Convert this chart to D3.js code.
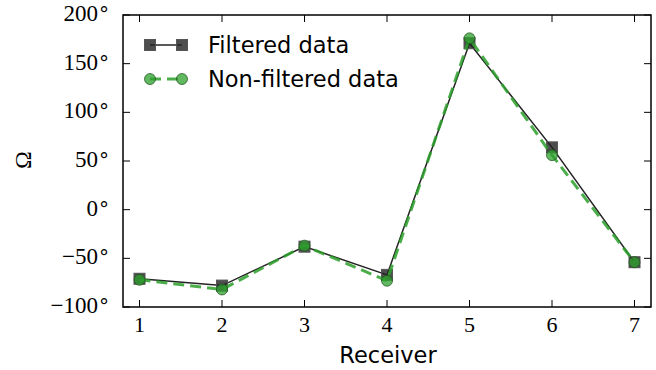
<!DOCTYPE html>
<html><head><meta charset="utf-8">
<script src="https://cdn.jsdelivr.net/npm/d3@7"></script>
<style>body{margin:0;background:#fff}svg{display:block}</style>
</head><body>
<svg id="c" width="656" height="370"></svg>
<script>
const receivers = [1, 2, 3, 4, 5, 6, 7];
const filtered = [-71, -78, -38, -67, 171, 64, -54];
const nonFiltered = [-72, -82, -37, -73, 176, 56, -54];
const yTicks = [-100, -50, 0, 50, 100, 150, 200];
const xTicks = [1, 2, 3, 4, 5, 6, 7];
const seriesNames = ["Filtered data", "Non-filtered data"];

const svg = d3.select("#c");
const L = 123, R = 651, T = 15, B = 307;
const x = d3.scaleLinear().domain([0.8, 7.2]).range([L, R]);
const y = d3.scaleLinear().domain([-100, 200]).range([B, T]);
const serif = "'Liberation Serif', 'DejaVu Serif', serif";
const sans = "'DejaVu Sans', sans-serif";

const g = svg.append("g");
xTicks.forEach(t => {
  g.append("line").attr("x1", x(t)).attr("x2", x(t)).attr("y1", B).attr("y2", B - 7).attr("stroke", "#000").attr("stroke-width", 1);
  g.append("line").attr("x1", x(t)).attr("x2", x(t)).attr("y1", T).attr("y2", T + 7).attr("stroke", "#000").attr("stroke-width", 1);
  g.append("text").attr("x", x(t)).attr("y", B + 25).attr("text-anchor", "middle")
    .attr("font-family", serif).attr("font-size", 22).text(t);
});
yTicks.forEach(t => {
  g.append("line").attr("x1", L).attr("x2", L + 7).attr("y1", y(t)).attr("y2", y(t)).attr("stroke", "#000").attr("stroke-width", 1);
  g.append("line").attr("x1", R).attr("x2", R - 7).attr("y1", y(t)).attr("y2", y(t)).attr("stroke", "#000").attr("stroke-width", 1);
  const tx = g.append("text").attr("x", L - 14).attr("y", y(t) + 6).attr("text-anchor", "end")
    .attr("font-family", serif).attr("font-size", 23);
  tx.append("tspan").text(t < 0 ? "\u2212" + Math.abs(t) : String(t));
  tx.append("tspan").attr("dx", 1).attr("font-family", sans).attr("font-size", 20).text("\u00B0");
});

const line = d3.line().x(d => x(d[0])).y(d => y(d[1]));
const fData = receivers.map((r, i) => [r, filtered[i]]);
const nData = receivers.map((r, i) => [r, nonFiltered[i]]);

svg.append("path").datum(fData).attr("d", line).attr("fill", "none")
  .attr("stroke", "#222").attr("stroke-width", 1.5);
svg.selectAll(".sq").data(fData).enter().append("rect")
  .attr("x", d => x(d[0]) - 5.5).attr("y", d => y(d[1]) - 5.5).attr("width", 11).attr("height", 11)
  .attr("fill", "#222").attr("fill-opacity", 0.8).attr("stroke", "#555").attr("stroke-width", 1);

svg.append("path").datum(nData).attr("d", line).attr("fill", "none")
  .attr("stroke", "#2ca02c").attr("stroke-opacity", 0.85).attr("stroke-width", 3).attr("stroke-dasharray", "11,6");
svg.selectAll(".ci").data(nData).enter().append("circle")
  .attr("cx", d => x(d[0])).attr("cy", d => y(d[1])).attr("r", 5.5)
  .attr("fill", "#2ca02c").attr("fill-opacity", 0.75).attr("stroke", "#1d4d1d").attr("stroke-opacity", 0.7).attr("stroke-width", 1);

svg.append("rect").attr("x", L).attr("y", T).attr("width", R - L).attr("height", B - T)
  .attr("fill", "none").attr("stroke", "#000").attr("stroke-width", 1.5);

const lg = svg.append("g");
const ly = [45, 79];
lg.append("line").attr("x1", 150).attr("x2", 182).attr("y1", ly[0]).attr("y2", ly[0]).attr("stroke", "#222").attr("stroke-width", 1.5);
[150, 182].forEach(cx => lg.append("rect").attr("x", cx - 5.5).attr("y", ly[0] - 5.5).attr("width", 11).attr("height", 11)
  .attr("fill", "#222").attr("fill-opacity", 0.8).attr("stroke", "#555"));
lg.append("line").attr("x1", 150).attr("x2", 182).attr("y1", ly[1]).attr("y2", ly[1]).attr("stroke", "#2ca02c").attr("stroke-opacity", 0.85)
  .attr("stroke-width", 3).attr("stroke-dasharray", "11,6");
[150, 182].forEach(cx => lg.append("circle").attr("cx", cx).attr("cy", ly[1]).attr("r", 5.5)
  .attr("fill", "#2ca02c").attr("fill-opacity", 0.75).attr("stroke", "#1d4d1d").attr("stroke-opacity", 0.7));
seriesNames.forEach((n, i) => lg.append("text").attr("x", 208).attr("y", ly[i] + 8)
  .attr("font-family", sans).attr("font-size", 22.5).text(n));

svg.append("text").attr("x", (L + R) / 2 + 1).attr("y", 363).attr("text-anchor", "middle")
  .attr("font-family", sans).attr("font-size", 22.5).text("Receiver");
svg.append("text").attr("transform", "translate(31,160) rotate(-90)").attr("text-anchor", "middle")
  .attr("font-family", serif).attr("font-size", 24).text("\u03A9");
</script>
</body></html>
